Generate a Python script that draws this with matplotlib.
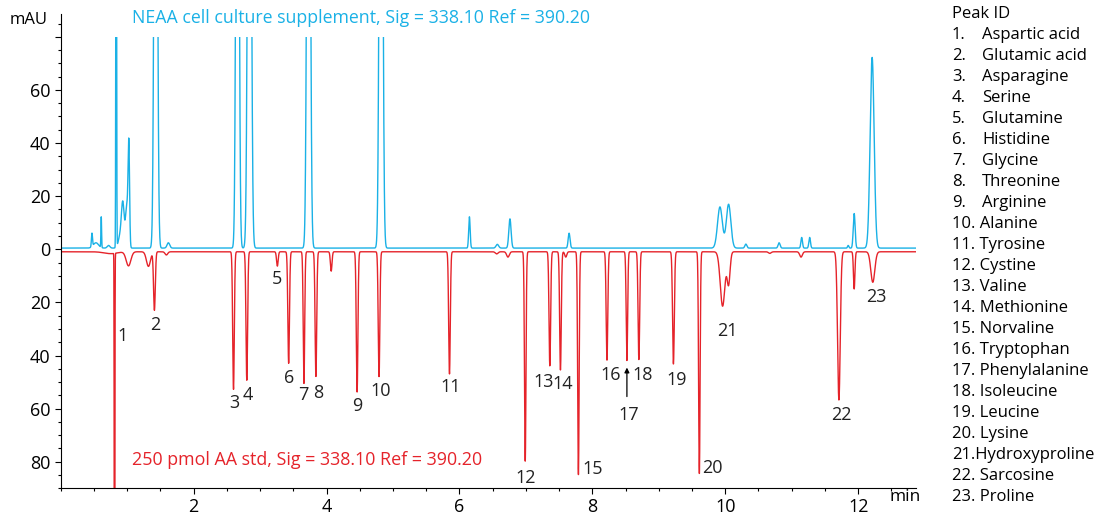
import numpy as np
import matplotlib.pyplot as plt
from matplotlib.patches import Rectangle
from matplotlib.ticker import MultipleLocator, FixedLocator, FuncFormatter

plt.rcParams['font.family'] = ['Open Sans', 'DejaVu Sans']

# NEAA cell culture supplement (upper trace): retention time (min), height (mAU), width (sigma, min)
neaa_rt = [0.47, 0.53, 0.61, 0.72, 0.835, 0.90, 0.935, 0.995, 1.025, 1.43, 1.62, 2.66, 2.84,
           3.73, 4.82, 6.15, 6.57, 6.76, 7.65, 9.92, 10.05, 10.31, 10.81, 11.15, 11.27,
           11.85, 11.94, 12.21]
neaa_height = [5.0, 2.0, 11.5, 1.0, 250, 5.0, 15.0, 16.0, 36.0, 300, 2.0, 300, 300,
               300, 300, 11.8, 1.4, 11.0, 5.6, 15.5, 16.5, 1.5, 2.0, 4.0, 4.0,
               1.0, 13.0, 71.8]
neaa_sigma = [0.008, 0.04, 0.005, 0.02, 0.005, 0.03, 0.02, 0.02, 0.011, 0.021, 0.02, 0.02, 0.023,
              0.022, 0.022, 0.011, 0.02, 0.017, 0.014, 0.036, 0.034, 0.015, 0.015, 0.012, 0.012,
              0.01, 0.014, 0.03]
neaa_base = 0.45
neaa_max = 80  # upper trace is cut off at this level

# 250 pmol AA standard (lower trace, plotted inverted)
std_rt = [0.75, 0.81, 1.02, 1.32, 1.41, 1.59, 2.60, 2.80, 3.26, 3.43, 3.66, 3.84, 4.07,
          4.46, 4.79, 5.85, 6.56, 6.73, 6.99, 7.36, 7.52, 7.60, 7.79, 8.22, 8.52, 8.70,
          9.22, 9.61, 9.96, 10.05, 10.67, 11.14, 11.71, 11.94, 12.22]
std_height = [0.7, 250, 5.3, 5.5, 22.0, 1.2, 51.8, 48.4, 5.4, 42.0, 49.6, 47.0, 7.3,
              52.8, 47.0, 46.0, 0.8, 2.0, 79.0, 43.0, 44.5, 2.0, 84.0, 40.8, 41.0, 40.6,
              42.3, 83.5, 20.5, 12.0, 0.6, 2.0, 55.8, 14.0, 11.5]
std_sigma = [0.1, 0.004, 0.035, 0.03, 0.013, 0.02, 0.012, 0.012, 0.012, 0.012, 0.011, 0.012, 0.012,
             0.012, 0.012, 0.012, 0.02, 0.02, 0.011, 0.012, 0.012, 0.015, 0.011, 0.012, 0.011, 0.012,
             0.013, 0.011, 0.035, 0.022, 0.02, 0.02, 0.02, 0.011, 0.03]
std_base = 0.94

peak_names = ["Aspartic acid", "Glutamic acid", "Asparagine", "Serine", "Glutamine",
              "Histidine", "Glycine", "Threonine", "Arginine", "Alanine", "Tyrosine",
              "Cystine", "Valine", "Methionine", "Norvaline", "Tryptophan", "Phenylalanine",
              "Isoleucine", "Leucine", "Lysine", "Hydroxyproline", "Sarcosine", "Proline"]

# where each peak number is written (min, signed mAU)
label_pos = [(0.93, -32.8), (1.43, -28.7), (2.61, -57.7), (2.82, -55.0), (3.26, -11.3),
             (3.44, -48.3), (3.65, -55.0), (3.87, -54.0), (4.46, -59.2), (4.81, -53.2),
             (5.87, -51.7), (7.00, -86.0), (7.27, -49.8), (7.56, -50.6), (8.01, -82.6),
             (8.27, -47.5), (8.54, -62.3), (8.75, -47.2), (9.27, -49.4), (9.80, -82.3),
             (10.03, -30.9), (11.75, -62.3), (12.28, -18.1)]


def chromatogram(t, rts, heights, sigmas, base):
    y = np.full_like(t, base)
    for c, h, s in zip(rts, heights, sigmas):
        y += h * np.exp(-0.5 * ((t - c) / s) ** 2)
    return y


t = np.linspace(0, 12.87, 8000)
neaa = chromatogram(t, neaa_rt, neaa_height, neaa_sigma, neaa_base)
std = -chromatogram(t, std_rt, std_height, std_sigma, std_base)

blue = '#1ab1e6'
red = '#e5232a'

fig = plt.figure(figsize=(11.06, 5.16), dpi=100)
ax = fig.add_axes([0.0549, 0.0537, 0.7733, 0.9192])
line_b, = ax.plot(t, neaa, color=blue, lw=1.0)
ax.plot(t, std, color=red, lw=1.0)

ax.set_xlim(0, 12.87)
ax.set_ylim(-90.0, 88.6)

# open-topped cut of the off-scale peaks
clip = Rectangle((0, -90), 12.87, 90 + neaa_max, transform=ax.transData)
line_b.set_clip_path(clip)

for s in ['top', 'right']:
    ax.spines[s].set_visible(False)

ax.xaxis.set_major_locator(FixedLocator([2, 4, 6, 8, 10, 12]))
ax.xaxis.set_minor_locator(MultipleLocator(0.5))
ax.yaxis.set_major_locator(MultipleLocator(20))
ax.yaxis.set_minor_locator(MultipleLocator(5))
ax.yaxis.set_major_formatter(FuncFormatter(lambda v, p: '' if v > 70 else f'{abs(v):g}'))
ax.tick_params(which='major', length=4.2, width=0.8, labelsize=13, pad=3)
ax.tick_params(which='minor', length=2.4, width=0.8)

ax.text(1.07, 86.9, 'NEAA cell culture supplement, Sig = 338.10 Ref = 390.20',
        color=blue, fontsize=12.8, ha='left', va='center')
ax.text(1.07, -79.3, '250 pmol AA std, Sig = 338.10 Ref = 390.20',
        color=red, fontsize=12.9, ha='left', va='center')

for i, (lx, ly) in enumerate(label_pos):
    ax.text(lx, ly, str(i + 1), fontsize=13, ha='center', va='center', color='#222222')

# arrow pointing to peak 17
ax.annotate('', xy=(8.52, -43.5), xytext=(8.52, -56.5),
            arrowprops=dict(arrowstyle='-|>', color='black', lw=0.9, mutation_scale=7))

fig.text(29 / 1106, 1 - 20 / 516, 'mAU', fontsize=12, ha='center', va='center')
fig.text(905 / 1106, 1 - 497 / 516, 'min', fontsize=12.5, ha='center', va='center')

# peak ID list
x0 = 952 / 1106
fs = 12
fig.text(x0, 1 - 14 / 516, 'Peak ID', fontsize=fs, ha='left', va='center')
for i, name in enumerate(peak_names):
    yy = 1 - (35 + 21 * i) / 516
    num = i + 1
    if num < 10:
        fig.text(x0, yy, f'{num}.', fontsize=fs, ha='left', va='center')
        fig.text(982 / 1106, yy, name, fontsize=fs, ha='left', va='center')
    elif num == 21:
        fig.text(x0, yy, f'{num}.{name}', fontsize=fs, ha='left', va='center')
    else:
        fig.text(x0, yy, f'{num}. {name}', fontsize=fs, ha='left', va='center')

fig.savefig('out.png', dpi=100)
